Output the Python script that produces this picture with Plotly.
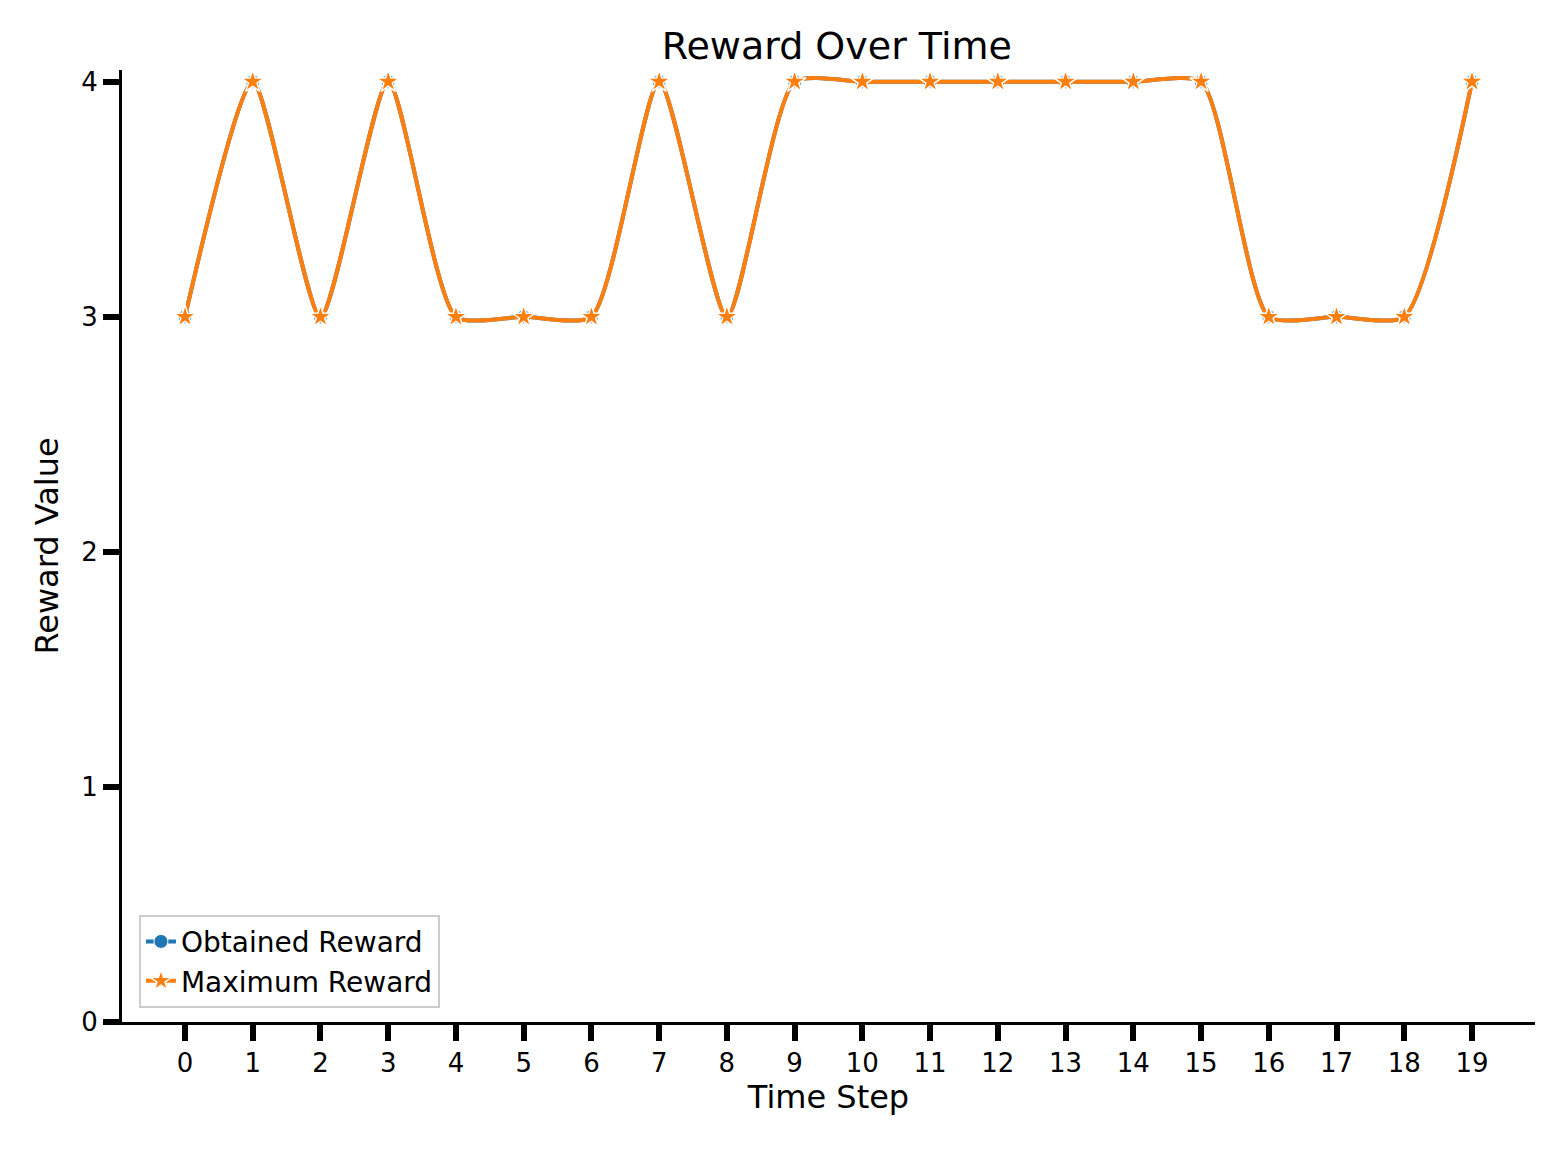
import plotly.graph_objects as go

steps = list(range(20))
obtained = [3,4,3,4,3,3,3,4,3,4,4,4,4,4,4,4,3,3,3,4]
maximum = [3,4,3,4,3,3,3,4,3,4,4,4,4,4,4,4,3,3,3,4]

fig = go.Figure()
fig.add_trace(go.Scatter(x=steps, y=obtained, name="Obtained Reward", mode="lines+markers",
    line=dict(color="#1f77b4", width=4, shape="spline", smoothing=0.6),
    marker=dict(symbol="circle", size=14, color="#1f77b4", line=dict(color="white", width=1))))
fig.add_trace(go.Scatter(x=steps, y=maximum, name="Maximum Reward", mode="lines+markers",
    line=dict(color="#ff7f0e", width=4, shape="spline", smoothing=0.6),
    marker=dict(symbol="star", size=17, color="#ff7f0e", line=dict(color="white", width=1.5))))

font = "DejaVu Sans"
fig.update_layout(
    width=1555, height=1155, plot_bgcolor="white", paper_bgcolor="white",
    margin=dict(l=114, r=28, t=62, b=141),
    font=dict(family=font, size=26, color="black"),
    title=dict(text="Reward Over Time", x=0.533, xanchor="center", y=0.967, yanchor="middle",
               font=dict(size=38)),
    xaxis=dict(range=[-0.93, 19.93], tickmode="array", tickvals=steps, ticks="outside",
               ticklen=16, tickwidth=6, tickcolor="black", showline=True, linecolor="black",
               linewidth=3, showgrid=False, zeroline=False,
               title=dict(text="Time Step", font=dict(size=32), standoff=6)),
    yaxis=dict(range=[0, 4.05], tickvals=[0,1,2,3,4], ticks="outside", ticklen=16, tickwidth=6,
               tickcolor="black", showline=True, linecolor="black", linewidth=3,
               showgrid=False, zeroline=False,
               title=dict(text="Reward Value", font=dict(size=32), standoff=14)),
    legend=dict(x=0.012, y=0.015, xanchor="left", yanchor="bottom", bgcolor="white",
                bordercolor="#cccccc", borderwidth=2, font=dict(size=28)),
)
fig.write_html("out.html")
